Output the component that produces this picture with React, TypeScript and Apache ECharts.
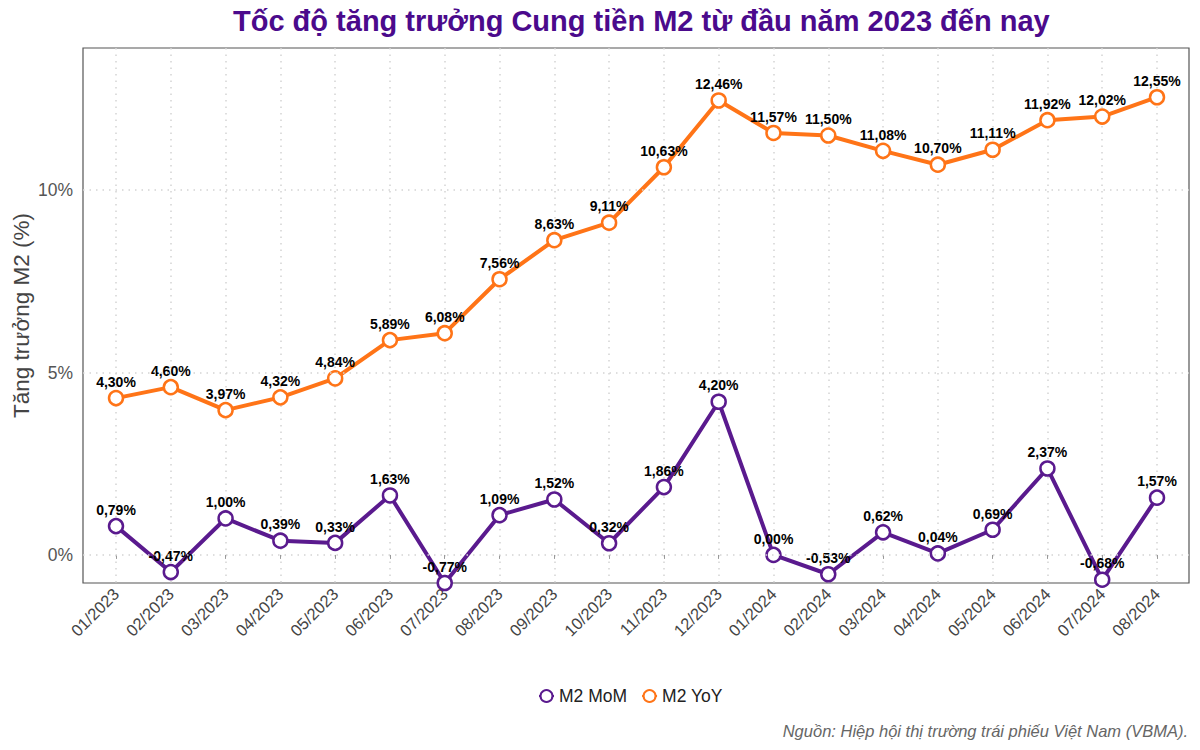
import React, { useEffect, useRef } from "react";
import * as echarts from "echarts";

const categories = [
  "01/2023", "02/2023", "03/2023", "04/2023", "05/2023", "06/2023", "07/2023",
  "08/2023", "09/2023", "10/2023", "11/2023", "12/2023", "01/2024", "02/2024",
  "03/2024", "04/2024", "05/2024", "06/2024", "07/2024", "08/2024",
];
const m2MoM = [0.79, -0.47, 1.0, 0.39, 0.33, 1.63, -0.77, 1.09, 1.52, 0.32, 1.86, 4.2, 0.0, -0.53, 0.62, 0.04, 0.69, 2.37, -0.68, 1.57];
const m2YoY = [4.3, 4.6, 3.97, 4.32, 4.84, 5.89, 6.08, 7.56, 8.63, 9.11, 10.63, 12.46, 11.57, 11.5, 11.08, 10.7, 11.11, 11.92, 12.02, 12.55];
const yTicks = [0, 5, 10];

const Y_MIN = -0.77;
const Y_MAX = 13.9;
const FONT = "Liberation Sans, Arial, Helvetica, sans-serif";
const PURPLE = "#5a1a8e";
const ORANGE = "#ff7417";

const fmt = (v: number) => v.toFixed(2).replace(".", ",") + "%";

export default function App() {
  const ref = useRef<HTMLDivElement>(null);
  useEffect(() => {
    if (!ref.current) return;
    const chart = echarts.init(ref.current, undefined, { renderer: "svg" });
    const grid = { top: 48, bottom: 167 };
    const gridLineStyle = { color: "#d4d4d4", width: 1.5, type: [1.5, 5] as any };
    const labelCommon = {
      show: true,
      position: "top" as const,
      distance: 1,
      fontFamily: FONT,
      fontWeight: "bold" as const,
      fontSize: 14,
      color: "#000",
      formatter: (p: any) => fmt(p.value),
    };
    const makeSeries = (name: string, data: number[], color: string, z: number) => ({
      name,
      type: "line",
      xAxisIndex: 1,
      yAxisIndex: 1,
      data,
      symbol: "circle",
      symbolSize: 14,
      showAllSymbol: true,
      lineStyle: { color, width: 4 },
      itemStyle: { color: "#fff", borderColor: color, borderWidth: 2.5 },
      label: labelCommon,
      z,
      clip: false,
      emphasis: { disabled: true },
    });
    chart.setOption({
      animation: false,
      textStyle: { fontFamily: FONT },
      title: {
        text: "Tốc độ tăng trưởng Cung tiền M2 từ đầu năm 2023 đến nay",
        left: 228,
        top: 1,
        textStyle: { fontFamily: FONT, fontSize: 29, fontWeight: "bold", color: "#4b0a8c" },
      },
      legend: {
        data: ["M2 MoM", "M2 YoY"],
        left: 533,
        top: 682,
        itemWidth: 15,
        itemHeight: 15,
        itemGap: 14,
        textStyle: { fontFamily: FONT, fontSize: 17.5, color: "#222" },
      },
      grid: [
        { left: 83, right: 11, ...grid, show: true, borderColor: "#555", borderWidth: 1.2, backgroundColor: "transparent" },
        { left: 116, right: 43, ...grid },
      ],
      xAxis: [
        { type: "value", gridIndex: 0, show: false, min: 0, max: 1 },
        {
          type: "category",
          gridIndex: 1,
          data: categories,
          boundaryGap: false,
          axisLine: { show: false },
          axisTick: { show: true, length: 4, lineStyle: { color: "#999" } },
          splitLine: { show: true, lineStyle: gridLineStyle },
          axisLabel: {
            rotate: 45,
            margin: 8,
            fontSize: 16.5,
            color: "#444",
            fontFamily: FONT,
            interval: 0,
          },
        },
      ],
      yAxis: [
        {
          type: "value",
          gridIndex: 0,
          min: Y_MIN,
          max: Y_MAX,
          axisLine: { show: false },
          axisTick: { show: false },
          splitLine: { show: false },
          axisLabel: { show: false },
          name: "Tăng trưởng M2 (%)",
          nameLocation: "middle",
          nameGap: 50,
          nameRotate: 90,
          nameTextStyle: { fontFamily: FONT, fontSize: 22.5, color: "#444" },
        },
        {
          type: "value",
          gridIndex: 1,
          min: Y_MIN,
          max: Y_MAX,
          show: false,
        },
      ],
      series: [
        {
          type: "line",
          xAxisIndex: 0,
          yAxisIndex: 0,
          data: [],
          silent: true,
          markLine: {
            silent: true,
            symbol: "none",
            label: {
              show: true,
              position: "start",
              distance: 10,
              formatter: (p: any) => p.value + "%",
              fontFamily: FONT,
              fontSize: 17.5,
              color: "#555",
            },
            lineStyle: gridLineStyle,
            data: yTicks.map((t) => ({ yAxis: t })),
          },
        },
        makeSeries("M2 MoM", m2MoM, PURPLE, 3),
        makeSeries("M2 YoY", m2YoY, ORANGE, 4),
      ],
      graphic: [
        {
          type: "text",
          right: 12,
          top: 722,
          style: {
            text: "Nguồn: Hiệp hội thị trường trái phiếu Việt Nam (VBMA).",
            font: `italic 16.5px ${FONT}`,
            fill: "#666",
          },
        },
      ],
    });
    return () => chart.dispose();
  }, []);
  return <div ref={ref} style={{ position: "absolute", left: 0, top: 0, width: 1200, height: 750 }} />;
}
